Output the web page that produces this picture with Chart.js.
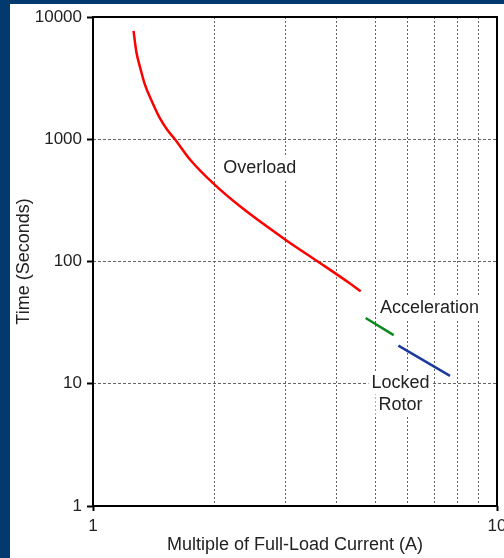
<!DOCTYPE html>
<html>
<head>
<meta charset="utf-8">
<script src="https://cdn.jsdelivr.net/npm/chart.js@4.4.1/dist/chart.umd.min.js"></script>
<style>
  html, body { margin: 0; padding: 0; background: #023a6f; width: 504px; height: 558px; overflow: hidden; }
  #wrap { position: absolute; left: 10px; top: 4px; width: 494px; height: 554px; background: #fff; }
</style>
</head>
<body>
<div id="wrap"><canvas id="tcc" width="494" height="554"></canvas></div>
<script>
// axis ticks
const xTicks = [1, 2, 3, 4, 5, 6, 7, 8, 9, 10];
const xTickLabels = ['1', '', '', '', '', '', '', '', '', '10'];
const yTicks = [1, 10, 100, 1000, 10000];
const yTickLabels = ['1', '10', '100', '1000', '10000'];

// curves (multiple of FLC, seconds)
const overloadX = [1.26, 1.28, 1.31, 1.345, 1.40, 1.465, 1.525, 1.595, 1.74, 2.0, 2.32, 3.0, 3.6, 4.3, 4.6];
const overloadY = [7700, 5200, 3800, 2780, 2030, 1480, 1200, 1000, 680, 425, 280, 150, 100, 67, 57];
const accelX = [4.73, 5.55];
const accelY = [34.5, 25];
const lockedX = [5.7, 7.65];
const lockedY = [20.5, 11.6];

const curveLabels = [
  { lines: ['Overload'], x: 2.10, y: 580, align: 'left' },
  { lines: ['Acceleration'], x: 5.13, y: 41.7, align: 'left' },
  { lines: ['Locked', 'Rotor'], x: 5.77, y: 10.1, align: 'center' }
];

const FONT = "'Liberation Sans', Arial, sans-serif";

function pts(xs, ys) {
  return xs.map((x, i) => ({ x: x, y: ys[i] }));
}

const framePlugin = {
  id: 'frame',
  afterDraw(chart) {
    const { ctx, chartArea: a, scales } = chart;
    ctx.save();
    // curve labels with white backing
    ctx.font = '18px ' + FONT;
    ctx.textBaseline = 'middle';
    curveLabels.forEach(l => {
      const px = scales.x.getPixelForValue(l.x);
      const py = scales.y.getPixelForValue(l.y);
      l.lines.forEach((t, i) => {
        const w = ctx.measureText(t).width;
        const left = l.align === 'left' ? px : px - w / 2;
        const y = py + i * 22;
        ctx.fillStyle = '#fff';
        ctx.fillRect(left - 3, y - 11, w + 6, 22);
        ctx.fillStyle = '#222';
        ctx.textAlign = 'left';
        ctx.fillText(t, left, y);
      });
    });
    // box
    ctx.strokeStyle = '#000';
    ctx.lineWidth = 2;
    ctx.strokeRect(a.left, a.top, a.right - a.left, a.bottom - a.top);
    ctx.restore();
  }
};

new Chart(document.getElementById('tcc'), {
  type: 'line',
  data: {
    datasets: [
      { label: 'Overload', data: pts(overloadX, overloadY), borderColor: '#ff0000', borderWidth: 2.5,
        pointRadius: 0, cubicInterpolationMode: 'monotone' },
      { label: 'Acceleration', data: pts(accelX, accelY), borderColor: '#0a8a1e', borderWidth: 2.5, pointRadius: 0 },
      { label: 'Locked Rotor', data: pts(lockedX, lockedY), borderColor: '#1c3a9c', borderWidth: 2.5, pointRadius: 0 }
    ]
  },
  options: {
    responsive: false,
    animation: false,
    layout: { padding: { top: 13, right: 7, left: 0, bottom: 0 } },
    plugins: { legend: { display: false }, tooltip: { enabled: false } },
    scales: {
      x: {
        type: 'logarithmic',
        min: 1,
        max: 10,
        afterBuildTicks: s => { s.ticks = xTicks.map(v => ({ value: v })); },
        afterFit: s => { s.height = 52; s.paddingLeft = 0; s.paddingRight = 0; },
        ticks: {
          autoSkip: false, maxRotation: 0, padding: 5, color: '#222',
          font: { family: FONT, size: 17 },
          callback: (v, i) => xTickLabels[i]
        },
        grid: {
          color: c => (c.index === 0 || c.index === xTicks.length - 1) ? 'rgba(0,0,0,0)' : '#666',
          lineWidth: 1,
          tickLength: 5,
          tickWidth: 2,
          tickColor: c => (c.index === 0 || c.index === xTicks.length - 1) ? '#000' : 'rgba(0,0,0,0)'
        },
        border: { display: false, dash: [2, 2] },
        title: {
          display: true, text: 'Multiple of Full-Load Current (A)', color: '#222',
          font: { family: FONT, size: 18 }, padding: { top: 0, bottom: 2 }
        }
      },
      y: {
        type: 'logarithmic',
        min: 1,
        max: 10000,
        afterBuildTicks: s => { s.ticks = yTicks.map(v => ({ value: v })); },
        afterFit: s => { s.width = 83; s.paddingTop = 0; s.paddingBottom = 0; },
        ticks: {
          autoSkip: false, padding: 5, color: '#222',
          font: { family: FONT, size: 17 },
          callback: (v, i) => yTickLabels[i]
        },
        grid: {
          color: c => (c.index === 0 || c.index === yTicks.length - 1) ? 'rgba(0,0,0,0)' : '#666',
          lineWidth: 1,
          tickLength: 6,
          tickWidth: 2,
          tickColor: '#000'
        },
        border: { display: false, dash: [3, 2] },
        title: {
          display: true, text: 'Time (Seconds)', color: '#222',
          font: { family: FONT, size: 18 }, padding: { top: 3, bottom: 0 }
        }
      }
    }
  },
  plugins: [framePlugin]
});
</script>
</body>
</html>
